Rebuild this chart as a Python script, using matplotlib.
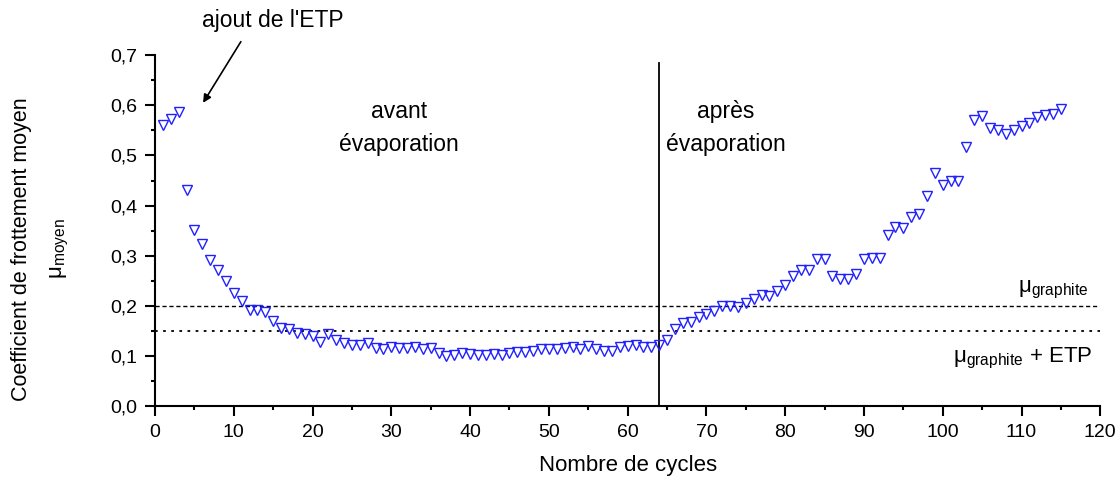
import matplotlib
matplotlib.use('Agg')
import matplotlib.pyplot as plt
from matplotlib.ticker import MultipleLocator, FuncFormatter

plt.rcParams['font.family'] = ['Liberation Sans', 'DejaVu Sans']
plt.rcParams['mathtext.fontset'] = 'custom'
plt.rcParams['mathtext.rm'] = 'Liberation Sans'
plt.rcParams['mathtext.it'] = 'Liberation Sans'

# coefficient de frottement moyen, cycles 1 a 115
cycles = list(range(1, 116))
mu = [0.560, 0.573, 0.586, 0.432, 0.351, 0.324, 0.291, 0.272, 0.250, 0.226,
      0.209, 0.191, 0.191, 0.187, 0.169, 0.155, 0.154, 0.145, 0.144, 0.139,
      0.127, 0.143, 0.131, 0.126, 0.122, 0.122, 0.125, 0.116, 0.114, 0.117,
      0.115, 0.115, 0.118, 0.114, 0.115, 0.106, 0.100, 0.101, 0.105, 0.104,
      0.101, 0.101, 0.104, 0.101, 0.105, 0.108, 0.107, 0.110, 0.114, 0.114,
      0.114, 0.115, 0.118, 0.113, 0.120, 0.113, 0.110, 0.110, 0.118, 0.120,
      0.122, 0.117, 0.118, 0.121, 0.132, 0.153, 0.165, 0.167, 0.178, 0.183,
      0.190, 0.199, 0.199, 0.197, 0.206, 0.213, 0.221, 0.219, 0.229, 0.242,
      0.259, 0.271, 0.272, 0.293, 0.293, 0.259, 0.254, 0.254, 0.264, 0.293,
      0.296, 0.296, 0.342, 0.357, 0.356, 0.377, 0.383, 0.419, 0.464, 0.442,
      0.450, 0.449, 0.517, 0.571, 0.578, 0.555, 0.550, 0.543, 0.550, 0.558,
      0.564, 0.576, 0.580, 0.583, 0.592]

mu_graphite = 0.2
mu_graphite_etp = 0.15
cycle_evap = 64

fig = plt.figure(figsize=(11.2, 4.8), dpi=100)
ax = fig.add_axes([0.1384, 0.154, 0.844, 0.731])

ax.plot(cycles, mu, linestyle='none', marker='v', markersize=7,
        markerfacecolor='none', markeredgecolor='#2020ff', markeredgewidth=1.0,
        clip_on=False, zorder=3)

ax.axhline(mu_graphite, color='black', linestyle=(0, (3, 2)), linewidth=1.0)
ax.axhline(mu_graphite_etp, color='black', linestyle=(0, (1.5, 3)), linewidth=1.3)
ax.plot([cycle_evap, cycle_evap], [0, 0.685], color='black', linewidth=1.3)

ax.set_xlim(0, 120)
ax.set_ylim(0, 0.7)
ax.xaxis.set_major_locator(MultipleLocator(10))
ax.xaxis.set_minor_locator(MultipleLocator(5))
ax.yaxis.set_major_locator(MultipleLocator(0.1))
ax.yaxis.set_minor_locator(MultipleLocator(0.05))
ax.yaxis.set_major_formatter(FuncFormatter(lambda v, p: f'{v:.1f}'.replace('.', ',')))

for s in ['top', 'right']:
    ax.spines[s].set_visible(False)
for s in ['left', 'bottom']:
    ax.spines[s].set_linewidth(1.5)
ax.tick_params(which='major', direction='out', length=7, width=1.5, labelsize=14, pad=6)
ax.tick_params(which='minor', direction='out', length=3, width=1.5)

ax.set_xlabel('Nombre de cycles', fontsize=16, labelpad=10)
# titre de l'axe y sur deux lignes
fig.text(22 / 1120, 1 - 249 / 480, 'Coefficient de frottement moyen', rotation=90,
         ha='center', va='center', fontsize=15.5)
fig.text(60 / 1120, 1 - 249 / 480, r'$\mathregular{\mu_{moyen}}$', rotation=90,
         ha='center', va='center', fontsize=16)

ax.text(31, 0.555, 'avant\névaporation', ha='center', va='center', fontsize=16.5,
        linespacing=1.55)
ax.text(72.5, 0.555, 'après\névaporation', ha='center', va='center', fontsize=16.5,
        linespacing=1.55)
ax.text(15, 0.77, "ajout de l'ETP", ha='center', va='center', fontsize=16.5, clip_on=False)
ax.annotate('', xy=(6.1, 0.605), xytext=(10.9, 0.727), annotation_clip=False,
            arrowprops=dict(arrowstyle='-|>', color='black', lw=1.2,
                            shrinkA=0, shrinkB=0, mutation_scale=12))
ax.text(109.5, 0.232, r'$\mathregular{\mu_{graphite}}$', fontsize=16, va='center')
ax.text(101.3, 0.095, r'$\mathregular{\mu_{graphite}}$ + ETP', fontsize=16, va='center')

fig.savefig('out.png', dpi=100)
